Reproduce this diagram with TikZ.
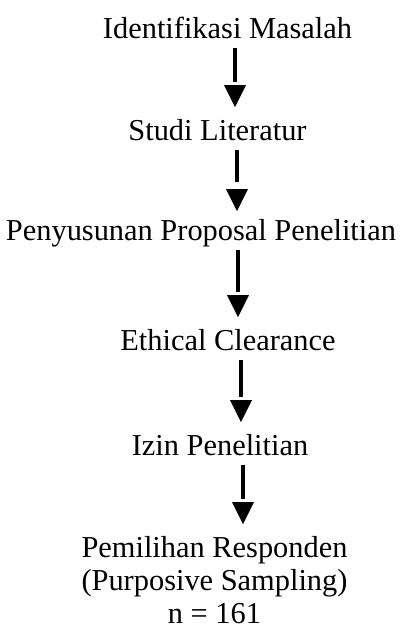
\documentclass[tikz,border=0pt]{standalone}
\usepackage{fontspec}
\setmainfont{Liberation Serif}
\usetikzlibrary{shapes.geometric}

\tikzset{
  stage/.style={inner sep=0pt, outer sep=0pt, anchor=base,
    text height=21pt, text depth=7pt,
    font=\fontsize{30.4}{33}\selectfont},
  laststage/.style={inner sep=0pt, outer sep=0pt, anchor=north, align=center,
    font=\fontsize{30.4}{33}\selectfont},
  % shaft stops short of the head, leaving a small gap
  shaft/.style={line width=3.6pt, shorten <=3pt, shorten >=37pt},
  head/.style={isosceles triangle, isosceles triangle stretches,
    shape border rotate=270, minimum width=22pt, minimum height=22pt,
    inner sep=0pt, outer sep=0pt, fill=black, draw=none,
    pos=1, anchor=apex, yshift=12pt}
}

\begin{document}
\begin{tikzpicture}[x=1pt, y=-1pt]
  \useasboundingbox[fill=white] (0,0) rectangle (406,630);

  % stages of the research procedure
  \node[stage] (ident)  at (227.5,38) {Identifikasi Masalah};
  \node[stage] (studi)  at (217.5,140) {Studi Literatur};
  \node[stage] (usulan) at (201,240) {Penyusunan Proposal Penelitian};
  \node[stage] (etik)   at (228,350) {Ethical Clearance};
  \node[stage] (izin)   at (220,455) {Izin Penelitian};
  \node[laststage] (responden) at (214.5,536)
    {Pemilihan Responden\\(Purposive Sampling)\\n = 161};

  % downward flow between the stages
  \draw[shaft] ([xshift=7.5pt]ident.south) -- ([xshift=7.5pt]ident.south |- studi.north)
    node[head] (h1) {};
  \draw[shaft] ([xshift=19.5pt]studi.south) -- ([xshift=19.5pt]studi.south |- usulan.north)
    node[head, yshift=-4pt] (h2) {};
  \draw[shaft] ([xshift=37pt]usulan.south) -- ([xshift=37pt]usulan.south |- etik.north)
    node[head] (h3) {};
  \draw[shaft] ([xshift=13pt]etik.south) -- ([xshift=13pt]etik.south |- izin.north)
    node[head] (h4) {};
  \draw[shaft] ([xshift=23pt]izin.south) -- ([xshift=23pt]izin.south |- responden.north)
    node[head] (h5) {};
\end{tikzpicture}
\end{document}
